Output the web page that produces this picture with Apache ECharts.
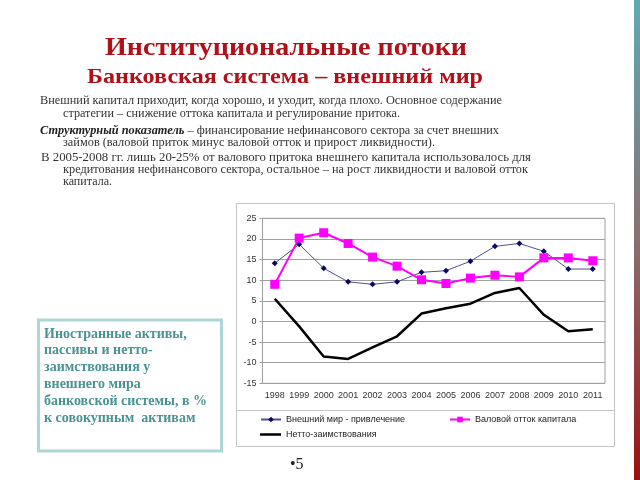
<!DOCTYPE html>
<html><head><meta charset="utf-8">
<script src="https://cdn.jsdelivr.net/npm/echarts@6/dist/echarts.min.js"></script>
<style>html,body{margin:0;padding:0;background:#fff}#c{width:640px;height:480px}</style>
</head><body><div id="c"></div>
<script>
const years = ['1998','1999','2000','2001','2002','2003','2004','2005','2006','2007','2008','2009','2010','2011'];
const inflow = [14.1, 18.7, 12.9, 9.6, 9.0, 9.6, 11.9, 12.3, 14.6, 18.2, 18.9, 17.0, 12.7, 12.7];
const outflow = [9.0, 20.2, 21.5, 18.9, 15.6, 13.4, 10.1, 9.2, 10.5, 11.2, 10.8, 15.4, 15.4, 14.7];
const netBorrowing = [5.5, -1.2, -8.5, -9.1, -6.3, -3.6, 1.9, 3.2, 4.3, 6.9, 8.1, 1.6, -2.4, -1.9];
const seriesNames = ['Внешний мир - привлечение', 'Валовой отток капитала', 'Нетто-заимствования'];
const yTicks = {min: -15, max: 25, interval: 5};

const title1 = 'Институциональные потоки';
const title2 = 'Банковская система – внешний мир';
const bodyLines = [
  'Внешний капитал приходит, когда хорошо, и уходит, когда плохо. Основное содержание',
  'стратегии – снижение оттока капитала и регулирование притока.',
  null,
  'займов (валовой приток минус валовой отток и прирост ликвидности).',
  'В 2005-2008 гг. лишь 20-25% от валового притока внешнего капитала использовалось для',
  'кредитования нефинансового сектора, остальное – на рост ликвидности и валовой отток',
  'капитала.'
];
const line3Bold = 'Структурный показатель';
const line3Rest = ' – финансирование нефинансового сектора за счет внешних';
const boxLines = ['Иностранные активы,', 'пассивы и нетто-', 'заимствования у', 'внешнего мира', 'банковской системы, в %', 'к совокупным  активам'];

const ctx = document.createElement('canvas').getContext('2d');
function measure(font, txt){ ctx.font = font; return ctx.measureText(txt).width; }

const serif = '"Liberation Serif", "Times New Roman", serif';
const bodyFont = '13px ' + serif;
const bodyBI = 'italic bold 13px ' + serif;
// layout: [x, centerY, targetRight]
const bodyLayout = [[40,101,502],[63,114,400],[40,131,499],[63,143,435],[41,158,531],[63,170,528],[63,182,112]];

const graphics = [];
graphics.push({type:'rect', shape:{x:634,y:0,width:6,height:480}, style:{fill:new echarts.graphic.LinearGradient(0,0,0,1,[{offset:0,color:'#5eaab4'},{offset:0.5,color:'#8a7070'},{offset:1,color:'#9a1010'}])}});
function fitText(txt, font, left, right, y, fill, va){
  const w = measure(font, txt);
  const sx = right ? (right-left)/w : 1;
  return {type:'text', x:left, y:y, scaleX:sx, style:{text:txt, font:font, fill:fill, textAlign:'left', textVerticalAlign:va||'middle'}};
}
const tFont1 = 'bold 26px ' + serif, tFont2 = 'bold 22px ' + serif;
graphics.push(fitText(title1, tFont1, 105, 467, 61, '#b01018', 'bottom'));
graphics.push(fitText(title2, tFont2, 87, 483, 88, '#b01018', 'bottom'));
bodyLines.forEach((ln,i)=>{
  const [x,c,r] = bodyLayout[i];
  if (ln === null) {
    const w = measure(bodyBI, line3Bold) + measure(bodyFont, line3Rest);
    const sx = (r-x)/w;
    graphics.push({type:'text', x:x, y:c, scaleX:sx, style:{text:'{b|'+line3Bold+'}{n|'+line3Rest+'}', textAlign:'left', textVerticalAlign:'middle',
      rich:{b:{font:bodyBI, fill:'#222'}, n:{font:bodyFont, fill:'#333'}}}});
  } else {
    graphics.push(fitText(ln, bodyFont, x, r, c, '#333'));
  }
});
graphics.push({type:'rect', shape:{x:38.5,y:320,width:183,height:131}, style:{fill:'#fff', stroke:'#aed6d6', lineWidth:3}});
boxLines.forEach((ln,i)=>{
  graphics.push({type:'text', x:44, y:341+i*16.8, style:{text:ln, font:'bold 14px '+serif, fill:'#4a9393', textAlign:'left', textVerticalAlign:'bottom'}});
});
graphics.push({type:'rect', shape:{x:236.5,y:203.5,width:378,height:243}, style:{fill:'none', stroke:'#c4c4c4', lineWidth:1}});
graphics.push({type:'line', shape:{x1:236.5,y1:410.5,x2:614.5,y2:410.5}, style:{stroke:'#c4c4c4', lineWidth:1}});
graphics.push({type:'text', x:290, y:473, style:{text:'•5', font:'16px '+serif, fill:'#222', textAlign:'left', textVerticalAlign:'bottom'}});

const chart = echarts.init(document.getElementById('c'), null, {renderer:'canvas'});
const legendText = {fontSize:9, fontFamily:'Arial, "Liberation Sans", sans-serif', color:'#222'};
chart.setOption({
  animation:false,
  backgroundColor:'#fff',
  graphic: graphics,
  grid:{left:262.5, top:218.3, width:342.5, height:165, show:true, borderColor:'#a0a0a0', borderWidth:1, backgroundColor:'transparent'},
  legend:[
    {data:[seriesNames[0]], left:260, top:415, itemWidth:20, itemHeight:7, itemGap:4, textStyle:legendText, padding:0},
    {data:[seriesNames[1]], left:449, top:415, itemWidth:20, itemHeight:7, itemGap:4, textStyle:legendText, padding:0},
    {data:[{name:seriesNames[2], icon:'rect'}], left:260, top:430, itemWidth:21, itemHeight:2.5, itemGap:4, textStyle:legendText, padding:0}
  ],
  xAxis:{type:'category', data:years, boundaryGap:true,
    axisLine:{lineStyle:{color:'#a0a0a0'}}, axisTick:{show:false},
    axisLabel:{fontSize:9, color:'#333', fontFamily:'Arial, "Liberation Sans", sans-serif', margin:8, interval:0}},
  yAxis:{type:'value', min:yTicks.min, max:yTicks.max, interval:yTicks.interval,
    axisLine:{show:true, lineStyle:{color:'#a0a0a0'}}, axisTick:{show:true, length:3, lineStyle:{color:'#a0a0a0'}},
    splitLine:{lineStyle:{color:'#a0a0a0', width:1}},
    axisLabel:{fontSize:9, color:'#333', fontFamily:'Arial, "Liberation Sans", sans-serif', margin:6}},
  series:[
    {name:seriesNames[0], type:'line', data:inflow, symbol:'diamond', symbolSize:6,
      itemStyle:{color:'#0a0a66'}, lineStyle:{color:'#50508a', width:1}},
    {name:seriesNames[1], type:'line', data:outflow, symbol:'rect', symbolSize:9,
      itemStyle:{color:'#ff00ff'}, lineStyle:{color:'#ff00ff', width:2}},
    {name:seriesNames[2], type:'line', data:netBorrowing, symbol:'none',
      itemStyle:{color:'#000'}, lineStyle:{color:'#000', width:2.5}}
  ]
});
</script></body></html>
